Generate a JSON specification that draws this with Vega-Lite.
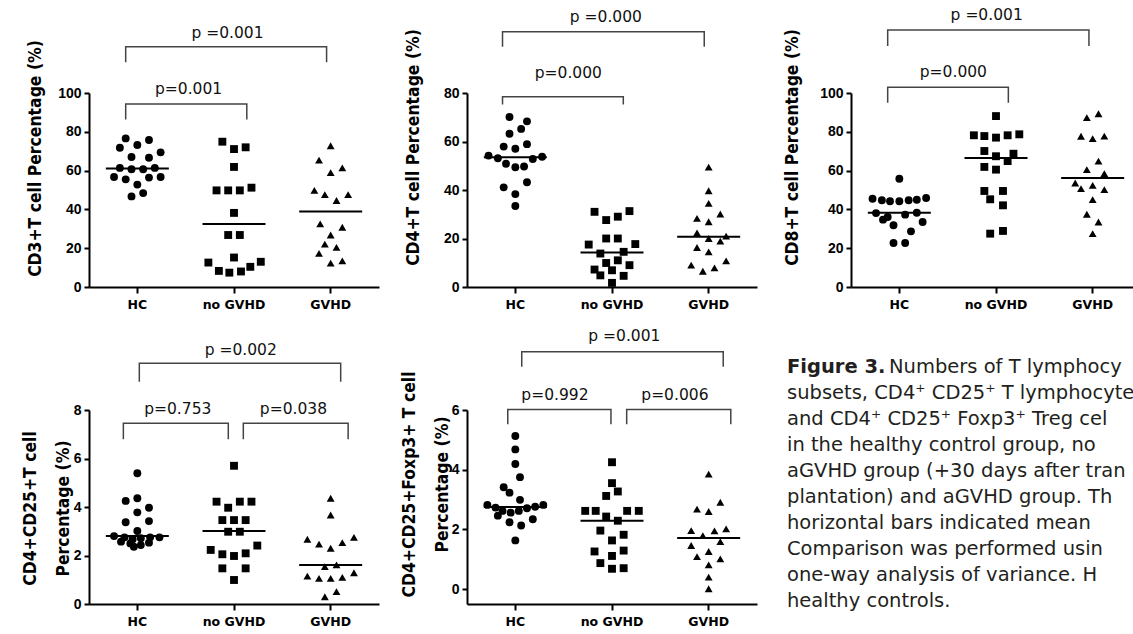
{
  "$schema": "https://vega.github.io/schema/vega-lite/v6.json",
  "autosize": {"type": "none"},
  "padding": {"left": 89, "top": 93, "right": 1044, "bottom": 541},
  "background": "white",
  "columns": 3,
  "align": "none",
  "bounds": "flush",
  "spacing": {"column": 30, "row": 123},
  "datasets": {
    "pts": [
      {"p":1,"g":"HC","j":-1,"v":76.6},{"p":1,"g":"HC","j":1,"v":75.8},{"p":1,"g":"HC","j":-1.5,"v":71.8},{"p":1,"g":"HC","j":0,"v":73.2},{"p":1,"g":"HC","j":2,"v":69.4},{"p":1,"g":"HC","j":-0.5,"v":67.0},{"p":1,"g":"HC","j":1,"v":66.6},{"p":1,"g":"HC","j":-1.5,"v":61.4},{"p":1,"g":"HC","j":-0.5,"v":60.7},{"p":1,"g":"HC","j":0.5,"v":60.7},{"p":1,"g":"HC","j":1.5,"v":61.4},{"p":1,"g":"HC","j":-2,"v":56.7},{"p":1,"g":"HC","j":-1,"v":55.5},{"p":1,"g":"HC","j":1,"v":56.4},{"p":1,"g":"HC","j":2,"v":56.7},{"p":1,"g":"HC","j":0,"v":52.8},{"p":1,"g":"HC","j":-0.5,"v":46.7},{"p":1,"g":"HC","j":0.5,"v":48.4},
      {"p":1,"g":"no GVHD","j":-1,"v":74.9},{"p":1,"g":"no GVHD","j":0,"v":71.1},{"p":1,"g":"no GVHD","j":1,"v":72.0},{"p":1,"g":"no GVHD","j":0,"v":61.9},{"p":1,"g":"no GVHD","j":-1.5,"v":49.8},{"p":1,"g":"no GVHD","j":-0.5,"v":49.8},{"p":1,"g":"no GVHD","j":0.5,"v":49.8},{"p":1,"g":"no GVHD","j":1.5,"v":51.2},{"p":1,"g":"no GVHD","j":0,"v":38.2},{"p":1,"g":"no GVHD","j":-0.5,"v":26.8},{"p":1,"g":"no GVHD","j":0.5,"v":26.8},{"p":1,"g":"no GVHD","j":0,"v":15.2},{"p":1,"g":"no GVHD","j":-2.2,"v":12.6},{"p":1,"g":"no GVHD","j":-1.3,"v":8.3},{"p":1,"g":"no GVHD","j":-0.4,"v":7.4},{"p":1,"g":"no GVHD","j":0.6,"v":8.0},{"p":1,"g":"no GVHD","j":1.4,"v":10.4},{"p":1,"g":"no GVHD","j":2.3,"v":13.0},
      {"p":1,"g":"GVHD","j":0,"v":72.8},{"p":1,"g":"GVHD","j":-1,"v":65.4},{"p":1,"g":"GVHD","j":0,"v":59.0},{"p":1,"g":"GVHD","j":1,"v":61.4},{"p":1,"g":"GVHD","j":-1.4,"v":49.8},{"p":1,"g":"GVHD","j":-0.5,"v":47.6},{"p":1,"g":"GVHD","j":0.5,"v":44.6},{"p":1,"g":"GVHD","j":1.5,"v":47.6},{"p":1,"g":"GVHD","j":-0.9,"v":32.5},{"p":1,"g":"GVHD","j":1,"v":30.8},{"p":1,"g":"GVHD","j":0,"v":26.8},{"p":1,"g":"GVHD","j":-0.5,"v":22.1},{"p":1,"g":"GVHD","j":0.5,"v":20.4},{"p":1,"g":"GVHD","j":-1,"v":17.3},{"p":1,"g":"GVHD","j":0,"v":12.3},{"p":1,"g":"GVHD","j":1,"v":13.5},

      {"p":2,"g":"HC","j":-0.5,"v":70.1},{"p":2,"g":"HC","j":1,"v":68.3},{"p":2,"g":"HC","j":0.5,"v":65.2},{"p":2,"g":"HC","j":-0.5,"v":63.2},{"p":2,"g":"HC","j":-1,"v":57.9},{"p":2,"g":"HC","j":0,"v":57.0},{"p":2,"g":"HC","j":1,"v":58.9},{"p":2,"g":"HC","j":-2.3,"v":54.2},{"p":2,"g":"HC","j":-1.5,"v":53.1},{"p":2,"g":"HC","j":1.5,"v":52.8},{"p":2,"g":"HC","j":2.3,"v":53.7},{"p":2,"g":"HC","j":-0.8,"v":50.8},{"p":2,"g":"HC","j":0,"v":49.4},{"p":2,"g":"HC","j":0.75,"v":49.7},{"p":2,"g":"HC","j":-1,"v":41.1},{"p":2,"g":"HC","j":1,"v":43.2},{"p":2,"g":"HC","j":0,"v":38.3},{"p":2,"g":"HC","j":0,"v":33.4},
      {"p":2,"g":"no GVHD","j":-1.5,"v":31.0},{"p":2,"g":"no GVHD","j":1.5,"v":31.3},{"p":2,"g":"no GVHD","j":-0.5,"v":27.6},{"p":2,"g":"no GVHD","j":0.5,"v":29.0},{"p":2,"g":"no GVHD","j":-0.5,"v":20.0},{"p":2,"g":"no GVHD","j":0.5,"v":20.0},{"p":2,"g":"no GVHD","j":-2,"v":17.5},{"p":2,"g":"no GVHD","j":2,"v":17.7},{"p":2,"g":"no GVHD","j":-1,"v":13.8},{"p":2,"g":"no GVHD","j":1,"v":14.5},{"p":2,"g":"no GVHD","j":-0.5,"v":9.9},{"p":2,"g":"no GVHD","j":0.5,"v":11.0},{"p":2,"g":"no GVHD","j":-1.5,"v":7.2},{"p":2,"g":"no GVHD","j":1.5,"v":9.0},{"p":2,"g":"no GVHD","j":-1,"v":4.8},{"p":2,"g":"no GVHD","j":0,"v":6.9},{"p":2,"g":"no GVHD","j":1,"v":4.6},{"p":2,"g":"no GVHD","j":0,"v":1.7},
      {"p":2,"g":"GVHD","j":0,"v":49.4},{"p":2,"g":"GVHD","j":0,"v":39.7},{"p":2,"g":"GVHD","j":0,"v":34.5},{"p":2,"g":"GVHD","j":1,"v":30.1},{"p":2,"g":"GVHD","j":-1,"v":28.3},{"p":2,"g":"GVHD","j":0,"v":26.9},{"p":2,"g":"GVHD","j":-1,"v":22.3},{"p":2,"g":"GVHD","j":0,"v":20.0},{"p":2,"g":"GVHD","j":1,"v":18.9},{"p":2,"g":"GVHD","j":1.5,"v":21.0},{"p":2,"g":"GVHD","j":-1,"v":16.3},{"p":2,"g":"GVHD","j":0,"v":14.5},{"p":2,"g":"GVHD","j":-1.5,"v":9.0},{"p":2,"g":"GVHD","j":-0.5,"v":6.5},{"p":2,"g":"GVHD","j":0.5,"v":7.9},{"p":2,"g":"GVHD","j":1.5,"v":10.8},

      {"p":3,"g":"HC","j":0,"v":55.8},{"p":3,"g":"HC","j":-2.3,"v":45.5},{"p":3,"g":"HC","j":-1.5,"v":44.7},{"p":3,"g":"HC","j":-0.8,"v":44.2},{"p":3,"g":"HC","j":0,"v":44.2},{"p":3,"g":"HC","j":0.8,"v":44.7},{"p":3,"g":"HC","j":1.5,"v":45.0},{"p":3,"g":"HC","j":2.3,"v":45.9},{"p":3,"g":"HC","j":-2,"v":38.1},{"p":3,"g":"HC","j":-1,"v":36.1},{"p":3,"g":"HC","j":0.5,"v":37.3},{"p":3,"g":"HC","j":1.5,"v":38.3},{"p":3,"g":"HC","j":-1.4,"v":34.7},{"p":3,"g":"HC","j":2,"v":33.5},{"p":3,"g":"HC","j":-0.5,"v":31.8},{"p":3,"g":"HC","j":1,"v":28.7},{"p":3,"g":"HC","j":-0.5,"v":22.7},{"p":3,"g":"HC","j":0.5,"v":22.7},
      {"p":3,"g":"no GVHD","j":0,"v":88.1},{"p":3,"g":"no GVHD","j":-1.9,"v":78.2},{"p":3,"g":"no GVHD","j":-1,"v":77.8},{"p":3,"g":"no GVHD","j":0,"v":77.0},{"p":3,"g":"no GVHD","j":1,"v":78.2},{"p":3,"g":"no GVHD","j":2,"v":78.7},{"p":3,"g":"no GVHD","j":-1,"v":70.1},{"p":3,"g":"no GVHD","j":0,"v":67.4},{"p":3,"g":"no GVHD","j":1.5,"v":68.7},{"p":3,"g":"no GVHD","j":1,"v":64.9},{"p":3,"g":"no GVHD","j":-1,"v":61.9},{"p":3,"g":"no GVHD","j":0,"v":60.5},{"p":3,"g":"no GVHD","j":-1,"v":49.5},{"p":3,"g":"no GVHD","j":0.6,"v":49.5},{"p":3,"g":"no GVHD","j":-0.5,"v":45.2},{"p":3,"g":"no GVHD","j":0.6,"v":42.1},{"p":3,"g":"no GVHD","j":-0.5,"v":27.5},{"p":3,"g":"no GVHD","j":0.6,"v":28.9},
      {"p":3,"g":"GVHD","j":-0.5,"v":87.3},{"p":3,"g":"GVHD","j":0.5,"v":89.3},{"p":3,"g":"GVHD","j":-1,"v":77.7},{"p":3,"g":"GVHD","j":0,"v":76.5},{"p":3,"g":"GVHD","j":1,"v":77.8},{"p":3,"g":"GVHD","j":0.5,"v":64.9},{"p":3,"g":"GVHD","j":-0.5,"v":60.5},{"p":3,"g":"GVHD","j":1,"v":58.4},{"p":3,"g":"GVHD","j":-1.5,"v":53.6},{"p":3,"g":"GVHD","j":-1,"v":50.7},{"p":3,"g":"GVHD","j":0,"v":52.4},{"p":3,"g":"GVHD","j":1,"v":50.2},{"p":3,"g":"GVHD","j":0,"v":45.0},{"p":3,"g":"GVHD","j":-0.5,"v":37.5},{"p":3,"g":"GVHD","j":0.5,"v":33.5},{"p":3,"g":"GVHD","j":0,"v":27.5},

      {"p":4,"g":"HC","j":0,"v":5.39},{"p":4,"g":"HC","j":-1,"v":4.25},{"p":4,"g":"HC","j":0,"v":4.36},{"p":4,"g":"HC","j":1,"v":3.97},{"p":4,"g":"HC","j":0,"v":3.78},{"p":4,"g":"HC","j":-1,"v":3.37},{"p":4,"g":"HC","j":1,"v":3.42},{"p":4,"g":"HC","j":0,"v":3.01},{"p":4,"g":"HC","j":-2,"v":2.80},{"p":4,"g":"HC","j":-1.1,"v":2.75},{"p":4,"g":"HC","j":-0.4,"v":2.67},{"p":4,"g":"HC","j":0.3,"v":2.71},{"p":4,"g":"HC","j":1.1,"v":2.75},{"p":4,"g":"HC","j":1.9,"v":2.75},{"p":4,"g":"HC","j":-1.4,"v":2.57},{"p":4,"g":"HC","j":-0.6,"v":2.50},{"p":4,"g":"HC","j":-0.3,"v":2.36},{"p":4,"g":"HC","j":0.3,"v":2.43},{"p":4,"g":"HC","j":1,"v":2.53},
      {"p":4,"g":"no GVHD","j":0,"v":5.70},{"p":4,"g":"no GVHD","j":-1.5,"v":4.22},{"p":4,"g":"no GVHD","j":0.5,"v":4.22},{"p":4,"g":"no GVHD","j":1.5,"v":4.22},{"p":4,"g":"no GVHD","j":-0.5,"v":3.97},{"p":4,"g":"no GVHD","j":-1,"v":3.46},{"p":4,"g":"no GVHD","j":0,"v":3.46},{"p":4,"g":"no GVHD","j":1,"v":3.46},{"p":4,"g":"no GVHD","j":-0.5,"v":2.98},{"p":4,"g":"no GVHD","j":0.5,"v":2.98},{"p":4,"g":"no GVHD","j":-2,"v":2.23},{"p":4,"g":"no GVHD","j":-1,"v":2.05},{"p":4,"g":"no GVHD","j":0,"v":1.98},{"p":4,"g":"no GVHD","j":1,"v":2.09},{"p":4,"g":"no GVHD","j":2,"v":2.41},{"p":4,"g":"no GVHD","j":-1,"v":1.47},{"p":4,"g":"no GVHD","j":1,"v":1.47},{"p":4,"g":"no GVHD","j":0,"v":0.99},
      {"p":4,"g":"GVHD","j":0,"v":4.36},{"p":4,"g":"GVHD","j":0,"v":3.67},{"p":4,"g":"GVHD","j":-2,"v":2.67},{"p":4,"g":"GVHD","j":-1,"v":2.47},{"p":4,"g":"GVHD","j":0,"v":2.30},{"p":4,"g":"GVHD","j":1,"v":2.53},{"p":4,"g":"GVHD","j":2,"v":2.75},{"p":4,"g":"GVHD","j":-0.5,"v":1.54},{"p":4,"g":"GVHD","j":0.5,"v":1.61},{"p":4,"g":"GVHD","j":-2,"v":1.15},{"p":4,"g":"GVHD","j":-1,"v":1.06},{"p":4,"g":"GVHD","j":0,"v":1.06},{"p":4,"g":"GVHD","j":1,"v":1.10},{"p":4,"g":"GVHD","j":2,"v":1.29},{"p":4,"g":"GVHD","j":-0.5,"v":0.30},{"p":4,"g":"GVHD","j":0.5,"v":0.51},

      {"p":5,"g":"HC","j":0,"v":5.13},{"p":5,"g":"HC","j":0,"v":4.68},{"p":5,"g":"HC","j":0,"v":4.19},{"p":5,"g":"HC","j":0.4,"v":3.75},{"p":5,"g":"HC","j":-1,"v":3.41},{"p":5,"g":"HC","j":-0.5,"v":3.23},{"p":5,"g":"HC","j":0.4,"v":2.99},{"p":5,"g":"HC","j":-2.4,"v":2.82},{"p":5,"g":"HC","j":-1.7,"v":2.73},{"p":5,"g":"HC","j":-1.1,"v":2.62},{"p":5,"g":"HC","j":-0.4,"v":2.56},{"p":5,"g":"HC","j":0.3,"v":2.62},{"p":5,"g":"HC","j":1,"v":2.71},{"p":5,"g":"HC","j":1.7,"v":2.76},{"p":5,"g":"HC","j":2.4,"v":2.82},{"p":5,"g":"HC","j":-1.5,"v":2.46},{"p":5,"g":"HC","j":-0.5,"v":2.24},{"p":5,"g":"HC","j":0.5,"v":2.13},{"p":5,"g":"HC","j":1.5,"v":2.34},{"p":5,"g":"HC","j":0,"v":1.63},
      {"p":5,"g":"no GVHD","j":0,"v":4.25},{"p":5,"g":"no GVHD","j":0,"v":3.55},{"p":5,"g":"no GVHD","j":0.5,"v":3.27},{"p":5,"g":"no GVHD","j":-0.5,"v":3.12},{"p":5,"g":"no GVHD","j":-2.3,"v":2.62},{"p":5,"g":"no GVHD","j":-1.4,"v":2.62},{"p":5,"g":"no GVHD","j":1.3,"v":2.62},{"p":5,"g":"no GVHD","j":2.3,"v":2.62},{"p":5,"g":"no GVHD","j":-0.5,"v":2.43},{"p":5,"g":"no GVHD","j":0.5,"v":2.29},{"p":5,"g":"no GVHD","j":-1,"v":1.96},{"p":5,"g":"no GVHD","j":1,"v":1.82},{"p":5,"g":"no GVHD","j":0,"v":1.63},{"p":5,"g":"no GVHD","j":-1.5,"v":1.26},{"p":5,"g":"no GVHD","j":1,"v":1.29},{"p":5,"g":"no GVHD","j":0,"v":1.11},{"p":5,"g":"no GVHD","j":-1,"v":0.87},{"p":5,"g":"no GVHD","j":0,"v":0.68},{"p":5,"g":"no GVHD","j":1,"v":0.70},
      {"p":5,"g":"GVHD","j":0,"v":3.85},{"p":5,"g":"GVHD","j":1,"v":2.91},{"p":5,"g":"GVHD","j":-1,"v":2.68},{"p":5,"g":"GVHD","j":0,"v":2.60},{"p":5,"g":"GVHD","j":-1.5,"v":1.96},{"p":5,"g":"GVHD","j":-0.5,"v":1.79},{"p":5,"g":"GVHD","j":0.5,"v":1.95},{"p":5,"g":"GVHD","j":1.5,"v":2.02},{"p":5,"g":"GVHD","j":-1.5,"v":1.46},{"p":5,"g":"GVHD","j":1,"v":1.59},{"p":5,"g":"GVHD","j":-1,"v":1.09},{"p":5,"g":"GVHD","j":0,"v":1.26},{"p":5,"g":"GVHD","j":1,"v":1.01},{"p":5,"g":"GVHD","j":0,"v":0.81},{"p":5,"g":"GVHD","j":0,"v":0.40},{"p":5,"g":"GVHD","j":0,"v":0.01}
    ],
    "means": [
      {"p":1,"g":"HC","v":61.1},{"p":1,"g":"no GVHD","v":32.5},{"p":1,"g":"GVHD","v":38.9},
      {"p":2,"g":"HC","v":53.5},{"p":2,"g":"no GVHD","v":14.2},{"p":2,"g":"GVHD","v":20.7},
      {"p":3,"g":"HC","v":38.3},{"p":3,"g":"no GVHD","v":66.5},{"p":3,"g":"GVHD","v":56.2},
      {"p":4,"g":"HC","v":2.80},{"p":4,"g":"no GVHD","v":3.01},{"p":4,"g":"GVHD","v":1.61},
      {"p":5,"g":"HC","v":2.75},{"p":5,"g":"no GVHD","v":2.29},{"p":5,"g":"GVHD","v":1.71}
    ],
    "br": [
      {"p":1,"b":"o","k":0,"g":"HC","j":-1.0,"v":115.8},{"p":1,"b":"o","k":1,"g":"HC","j":-1.0,"v":123.9},{"p":1,"b":"o","k":2,"g":"GVHD","j":-0.35,"v":123.9},{"p":1,"b":"o","k":3,"g":"GVHD","j":-0.35,"v":115.8},
      {"p":1,"b":"i","k":0,"g":"HC","j":-1.0,"v":86.4},{"p":1,"b":"i","k":1,"g":"HC","j":-1.0,"v":94.3},{"p":1,"b":"i","k":2,"g":"no GVHD","j":1.1,"v":94.3},{"p":1,"b":"i","k":3,"g":"no GVHD","j":1.1,"v":86.4},
      {"p":2,"b":"o","k":0,"g":"HC","j":-1.1,"v":99.1},{"p":2,"b":"o","k":1,"g":"HC","j":-1.1,"v":105.3},{"p":2,"b":"o","k":2,"g":"GVHD","j":-0.38,"v":105.3},{"p":2,"b":"o","k":3,"g":"GVHD","j":-0.38,"v":99.1},
      {"p":2,"b":"i","k":0,"g":"HC","j":-1.1,"v":75.3},{"p":2,"b":"i","k":1,"g":"HC","j":-1.1,"v":78.5},{"p":2,"b":"i","k":2,"g":"no GVHD","j":0.97,"v":78.5},{"p":2,"b":"i","k":3,"g":"no GVHD","j":0.97,"v":75.3},
      {"p":3,"b":"o","k":0,"g":"HC","j":-1.0,"v":124.2},{"p":3,"b":"o","k":1,"g":"HC","j":-1.0,"v":132.5},{"p":3,"b":"o","k":2,"g":"GVHD","j":-0.32,"v":132.5},{"p":3,"b":"o","k":3,"g":"GVHD","j":-0.32,"v":124.2},
      {"p":3,"b":"i","k":0,"g":"HC","j":-1.0,"v":95.0},{"p":3,"b":"i","k":1,"g":"HC","j":-1.0,"v":102.9},{"p":3,"b":"i","k":2,"g":"no GVHD","j":1.06,"v":102.9},{"p":3,"b":"i","k":3,"g":"no GVHD","j":1.06,"v":95.0},
      {"p":4,"b":"o","k":0,"g":"HC","j":0.17,"v":9.17},{"p":4,"b":"o","k":1,"g":"HC","j":0.17,"v":9.93},{"p":4,"b":"o","k":2,"g":"GVHD","j":0.86,"v":9.93},{"p":4,"b":"o","k":3,"g":"GVHD","j":0.86,"v":9.17},
      {"p":4,"b":"a","k":0,"g":"HC","j":-1.2,"v":6.79},{"p":4,"b":"a","k":1,"g":"HC","j":-1.2,"v":7.45},{"p":4,"b":"a","k":2,"g":"no GVHD","j":-0.49,"v":7.45},{"p":4,"b":"a","k":3,"g":"no GVHD","j":-0.49,"v":6.79},
      {"p":4,"b":"c","k":0,"g":"no GVHD","j":0.8,"v":6.79},{"p":4,"b":"c","k":1,"g":"no GVHD","j":0.8,"v":7.45},{"p":4,"b":"c","k":2,"g":"GVHD","j":1.5,"v":7.45},{"p":4,"b":"c","k":3,"g":"GVHD","j":1.5,"v":6.79},
      {"p":5,"b":"o","k":0,"g":"HC","j":0.55,"v":7.45},{"p":5,"b":"o","k":1,"g":"HC","j":0.55,"v":7.95},{"p":5,"b":"o","k":2,"g":"GVHD","j":1.25,"v":7.95},{"p":5,"b":"o","k":3,"g":"GVHD","j":1.25,"v":7.45},
      {"p":5,"b":"a","k":0,"g":"HC","j":-0.65,"v":5.52},{"p":5,"b":"a","k":1,"g":"HC","j":-0.65,"v":6.02},{"p":5,"b":"a","k":2,"g":"no GVHD","j":-0.09,"v":6.02},{"p":5,"b":"a","k":3,"g":"no GVHD","j":-0.09,"v":5.52},
      {"p":5,"b":"c","k":0,"g":"no GVHD","j":1.26,"v":5.52},{"p":5,"b":"c","k":1,"g":"no GVHD","j":1.26,"v":6.02},{"p":5,"b":"c","k":2,"g":"GVHD","j":1.9,"v":6.02},{"p":5,"b":"c","k":3,"g":"GVHD","j":1.9,"v":5.52}
    ],
    "lab": [
      {"p":1,"g":"no GVHD","j":-0.56,"v":130.8,"t":"p =0.001"},{"p":1,"g":"HC","j":4.4,"v":101.9,"t":"p=0.001"},
      {"p":2,"g":"no GVHD","j":-0.53,"v":111.5,"t":"p =0.000"},{"p":2,"g":"HC","j":4.55,"v":88.4,"t":"p=0.000"},
      {"p":3,"g":"no GVHD","j":-0.8,"v":140.2,"t":"p =0.001"},{"p":3,"g":"HC","j":4.64,"v":111.0,"t":"p=0.000"},
      {"p":4,"g":"no GVHD","j":0.58,"v":10.47,"t":"p =0.002"},{"p":4,"g":"HC","j":3.47,"v":8.03,"t":"p=0.753"},{"p":4,"g":"no GVHD","j":5.1,"v":8.03,"t":"p=0.038"},
      {"p":5,"g":"no GVHD","j":1.06,"v":8.48,"t":"p =0.001"},{"p":5,"g":"HC","j":3.4,"v":6.5,"t":"p=0.992"},{"p":5,"g":"GVHD","j":-2.9,"v":6.5,"t":"p=0.006"}
    ],
    "cap": [
      {"line":0,"w":"b","t":"Figure 3."},
      {"line":0,"w":"r","t":"Numbers of T lymphocy"},
      {"line":1,"w":"n","t":"subsets, CD4⁺ CD25⁺ T lymphocyte"},
      {"line":2,"w":"n","t":"and CD4⁺ CD25⁺ Foxp3⁺ Treg cel"},
      {"line":3,"w":"n","t":"in the healthy control group, no"},
      {"line":4,"w":"n","t":"aGVHD group (+30 days after tran"},
      {"line":5,"w":"n","t":"plantation) and aGVHD group. Th"},
      {"line":6,"w":"n","t":"horizontal bars indicated mean"},
      {"line":7,"w":"n","t":"Comparison was performed usin"},
      {"line":8,"w":"n","t":"one-way analysis of variance. H"},
      {"line":9,"w":"n","t":"healthy controls."}
    ]
  },
  "concat": [
    {
      "width": 348, "height": 194,
      "encoding": {
        "x": {"field": "g", "type": "nominal", "title": null, "scale": {"type": "band", "domain": ["HC", "no GVHD", "GVHD"], "range": [0, 290], "paddingInner": 0, "paddingOuter": 0}},
        "y": {"field": "v", "type": "quantitative", "scale": {"domain": [0, 100], "nice": false, "zero": false}, "axis": {"values": [0, 20, 40, 60, 80, 100], "title": "CD3+T cell Percentage (%)", "titlePadding": 13, "titleY": 65}}
      },
      "layer": [
        {"data": {"name": "pts"}, "transform": [{"filter": "datum.p == 1"}], "mark": {"type": "point", "filled": true, "opacity": 1, "color": "#000", "size": 62}, "encoding": {"xOffset": {"field": "j", "type": "quantitative", "scale": {"domain": [-4.15, 4.15]}}, "shape": {"field": "g", "type": "nominal", "scale": {"domain": ["HC", "no GVHD", "GVHD"], "range": ["circle", "square", "triangle-up"]}, "legend": null}}},
        {"data": {"name": "means"}, "transform": [{"filter": "datum.p == 1"}], "mark": {"type": "tick", "color": "#000", "thickness": 2, "size": 63, "opacity": 1}},
        {"data": {"name": "br"}, "transform": [{"filter": "datum.p == 1"}], "mark": {"type": "line", "color": "#444", "strokeWidth": 1.5}, "encoding": {"xOffset": {"field": "j", "type": "quantitative"}, "detail": {"field": "b"}, "order": {"field": "k", "type": "quantitative"}}},
        {"data": {"name": "lab"}, "transform": [{"filter": "datum.p == 1"}], "mark": {"type": "text", "font": "DejaVu Sans", "fontSize": 15.5, "baseline": "middle", "color": "#111"}, "encoding": {"xOffset": {"field": "j", "type": "quantitative"}, "text": {"field": "t"}}}
      ]
    },
    {
      "width": 354, "height": 194,
      "encoding": {
        "x": {"field": "g", "type": "nominal", "title": null, "scale": {"type": "band", "domain": ["HC", "no GVHD", "GVHD"], "range": [0, 290], "paddingInner": 0, "paddingOuter": 0}},
        "y": {"field": "v", "type": "quantitative", "scale": {"domain": [0, 80], "nice": false, "zero": false}, "axis": {"values": [0, 20, 40, 60, 80], "title": "CD4+T cell Percentage (%)", "titlePadding": 21, "titleY": 54}}
      },
      "layer": [
        {"data": {"name": "pts"}, "transform": [{"filter": "datum.p == 2"}], "mark": {"type": "point", "filled": true, "opacity": 1, "color": "#000", "size": 62}, "encoding": {"xOffset": {"field": "j", "type": "quantitative", "scale": {"domain": [-4.15, 4.15]}}, "shape": {"field": "g", "type": "nominal", "scale": {"domain": ["HC", "no GVHD", "GVHD"], "range": ["circle", "square", "triangle-up"]}, "legend": null}}},
        {"data": {"name": "means"}, "transform": [{"filter": "datum.p == 2"}], "mark": {"type": "tick", "color": "#000", "thickness": 2, "size": 63, "opacity": 1}},
        {"data": {"name": "br"}, "transform": [{"filter": "datum.p == 2"}], "mark": {"type": "line", "color": "#444", "strokeWidth": 1.5}, "encoding": {"xOffset": {"field": "j", "type": "quantitative"}, "detail": {"field": "b"}, "order": {"field": "k", "type": "quantitative"}}},
        {"data": {"name": "lab"}, "transform": [{"filter": "datum.p == 2"}], "mark": {"type": "text", "font": "DejaVu Sans", "fontSize": 15.5, "baseline": "middle", "color": "#111"}, "encoding": {"xOffset": {"field": "j", "type": "quantitative"}, "text": {"field": "t"}}}
      ]
    },
    {
      "width": 282, "height": 194,
      "encoding": {
        "x": {"field": "g", "type": "nominal", "title": null, "scale": {"type": "band", "domain": ["HC", "no GVHD", "GVHD"], "range": [0, 290], "paddingInner": 0, "paddingOuter": 0}},
        "y": {"field": "v", "type": "quantitative", "scale": {"domain": [0, 100], "nice": false, "zero": false}, "axis": {"values": [0, 20, 40, 60, 80, 100], "title": "CD8+T cell Percentage (%)", "titlePadding": 18, "titleY": 54}}
      },
      "layer": [
        {"data": {"name": "pts"}, "transform": [{"filter": "datum.p == 3"}], "mark": {"type": "point", "filled": true, "opacity": 1, "color": "#000", "size": 62}, "encoding": {"xOffset": {"field": "j", "type": "quantitative", "scale": {"domain": [-4.15, 4.15]}}, "shape": {"field": "g", "type": "nominal", "scale": {"domain": ["HC", "no GVHD", "GVHD"], "range": ["circle", "square", "triangle-up"]}, "legend": null}}},
        {"data": {"name": "means"}, "transform": [{"filter": "datum.p == 3"}], "mark": {"type": "tick", "color": "#000", "thickness": 2, "size": 63, "opacity": 1}},
        {"data": {"name": "br"}, "transform": [{"filter": "datum.p == 3"}], "mark": {"type": "line", "color": "#444", "strokeWidth": 1.5}, "encoding": {"xOffset": {"field": "j", "type": "quantitative"}, "detail": {"field": "b"}, "order": {"field": "k", "type": "quantitative"}}},
        {"data": {"name": "lab"}, "transform": [{"filter": "datum.p == 3"}], "mark": {"type": "text", "font": "DejaVu Sans", "fontSize": 15.5, "baseline": "middle", "color": "#111"}, "encoding": {"xOffset": {"field": "j", "type": "quantitative"}, "text": {"field": "t"}}}
      ]
    },
    {
      "width": 348, "height": 194,
      "encoding": {
        "x": {"field": "g", "type": "nominal", "title": null, "scale": {"type": "band", "domain": ["HC", "no GVHD", "GVHD"], "range": [0, 290], "paddingInner": 0, "paddingOuter": 0}},
        "y": {"field": "v", "type": "quantitative", "scale": {"domain": [0, 8], "nice": false, "zero": false}, "axis": {"values": [0, 2, 4, 6, 8], "title": ["CD4+CD25+T cell", "Percentage (%)"], "titlePadding": 1, "titleY": 98}}
      },
      "layer": [
        {"data": {"name": "pts"}, "transform": [{"filter": "datum.p == 4"}], "mark": {"type": "point", "filled": true, "opacity": 1, "color": "#000", "size": 62}, "encoding": {"xOffset": {"field": "j", "type": "quantitative", "scale": {"domain": [-4.15, 4.15]}}, "shape": {"field": "g", "type": "nominal", "scale": {"domain": ["HC", "no GVHD", "GVHD"], "range": ["circle", "square", "triangle-up"]}, "legend": null}}},
        {"data": {"name": "means"}, "transform": [{"filter": "datum.p == 4"}], "mark": {"type": "tick", "color": "#000", "thickness": 2, "size": 63, "opacity": 1}},
        {"data": {"name": "br"}, "transform": [{"filter": "datum.p == 4"}], "mark": {"type": "line", "color": "#444", "strokeWidth": 1.5}, "encoding": {"xOffset": {"field": "j", "type": "quantitative"}, "detail": {"field": "b"}, "order": {"field": "k", "type": "quantitative"}}},
        {"data": {"name": "lab"}, "transform": [{"filter": "datum.p == 4"}], "mark": {"type": "text", "font": "DejaVu Sans", "fontSize": 15.5, "baseline": "middle", "color": "#111"}, "encoding": {"xOffset": {"field": "j", "type": "quantitative"}, "text": {"field": "t"}}}
      ]
    },
    {
      "width": 290, "height": 194,
      "encoding": {
        "x": {"field": "g", "type": "nominal", "title": null, "scale": {"type": "band", "domain": ["HC", "no GVHD", "GVHD"], "range": [0, 290], "paddingInner": 0, "paddingOuter": 0}},
        "y": {"field": "v", "type": "quantitative", "scale": {"domain": [-0.5, 6], "nice": false, "zero": false}, "axis": {"values": [0, 2, 4, 6], "title": ["CD4+CD25+Foxp3+ T cell", "Percentage (%)"], "titlePadding": 0, "titleY": 74}}
      },
      "layer": [
        {"data": {"name": "pts"}, "transform": [{"filter": "datum.p == 5"}], "mark": {"type": "point", "filled": true, "opacity": 1, "color": "#000", "size": 62}, "encoding": {"xOffset": {"field": "j", "type": "quantitative", "scale": {"domain": [-4.15, 4.15]}}, "shape": {"field": "g", "type": "nominal", "scale": {"domain": ["HC", "no GVHD", "GVHD"], "range": ["circle", "square", "triangle-up"]}, "legend": null}}},
        {"data": {"name": "means"}, "transform": [{"filter": "datum.p == 5"}], "mark": {"type": "tick", "color": "#000", "thickness": 2, "size": 63, "opacity": 1}},
        {"data": {"name": "br"}, "transform": [{"filter": "datum.p == 5"}], "mark": {"type": "line", "color": "#444", "strokeWidth": 1.5}, "encoding": {"xOffset": {"field": "j", "type": "quantitative"}, "detail": {"field": "b"}, "order": {"field": "k", "type": "quantitative"}}},
        {"data": {"name": "lab"}, "transform": [{"filter": "datum.p == 5"}], "mark": {"type": "text", "font": "DejaVu Sans", "fontSize": 15.5, "baseline": "middle", "color": "#111"}, "encoding": {"xOffset": {"field": "j", "type": "quantitative"}, "text": {"field": "t"}}}
      ]
    },
    {
      "width": 282, "height": 194,
      "data": {"name": "cap"},
      "encoding": {
        "x": {"datum": 0, "type": "quantitative", "scale": {"domain": [0, 1], "range": [-64, 282]}, "axis": null},
        "y": {"field": "line", "type": "quantitative", "scale": {"domain": [0, 9], "range": [-43, 191]}, "axis": null},
        "text": {"field": "t"}
      },
      "layer": [
        {"transform": [{"filter": "datum.w == 'n'"}], "mark": {"type": "text", "align": "left", "baseline": "middle", "font": "DejaVu Sans", "fontSize": 19.5, "color": "#231f20"}},
        {"transform": [{"filter": "datum.w == 'b'"}], "mark": {"type": "text", "align": "left", "baseline": "middle", "font": "DejaVu Sans", "fontSize": 19.5, "fontWeight": "bold", "color": "#231f20"}},
        {"transform": [{"filter": "datum.w == 'r'"}], "mark": {"type": "text", "align": "left", "baseline": "middle", "font": "DejaVu Sans", "fontSize": 19.5, "dx": 102, "color": "#231f20"}}
      ]
    }
  ],
  "config": {
    "view": {"stroke": null},
    "axis": {"grid": false, "domainColor": "#000", "domainWidth": 2, "tickColor": "#000", "tickWidth": 2, "labelColor": "#000", "titleColor": "#000", "labelFontWeight": "bold"},
    "axisY": {"tickSize": 5, "labelPadding": 3, "labelFont": "Liberation Sans", "labelFontSize": 14, "titleFont": "DejaVu Sans Condensed", "titleFontSize": 17.4, "titleFontWeight": "bold", "titleLineHeight": 33},
    "axisX": {"tickSize": 6, "labelPadding": 5, "labelFont": "DejaVu Sans", "labelFontSize": 12.5, "labelAngle": 0}
  }
}
